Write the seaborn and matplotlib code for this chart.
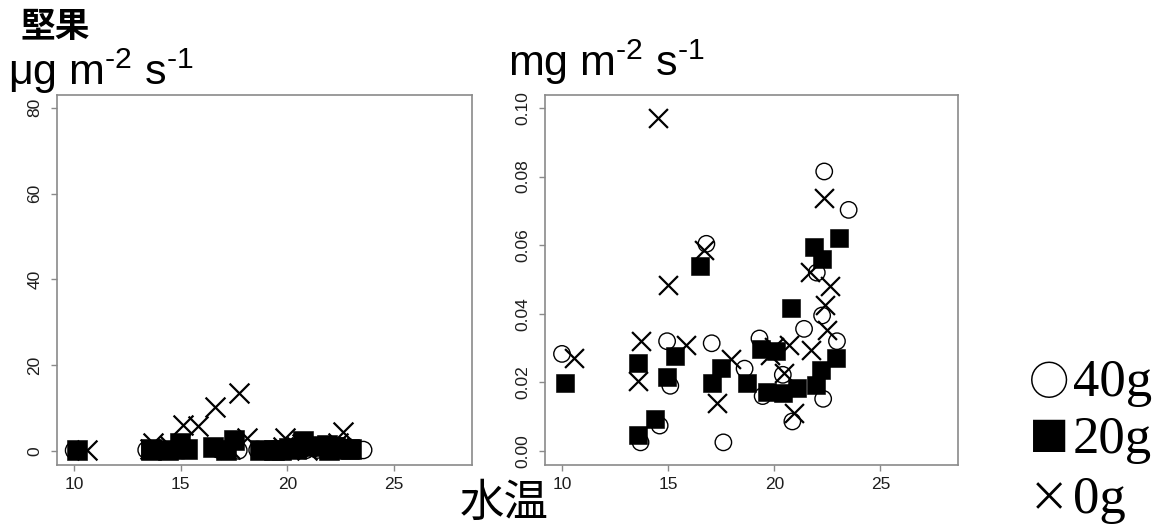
import numpy as np
import pandas as pd
import matplotlib
matplotlib.use("Agg")
import matplotlib.pyplot as plt
import seaborn as sns

# ---------------- data ----------------
groups = ["40g", "20g", "0g"]

# left panel (ug m-2 s-1)
left_40_x = [10.0, 13.4, 13.7, 14.6, 14.95, 15.1, 16.8, 17.1, 17.7, 18.6, 19.3, 19.5, 20.4, 20.85, 21.4, 22.0, 22.3, 22.3, 22.95, 23.55]
left_40_y = [0.1, 0.2, 0.1, 0.2, 0.3, 0.2, 0.3, 0.2, 0.1, 0.2, 0.3, 0.2, 0.3, 0.2, 0.3, 0.4, 0.5, 0.2, 0.3, 0.2]
left_20_x = [10.15, 13.6, 13.6, 14.4, 14.95, 15.3, 16.5, 17.1, 17.5, 18.7, 19.35, 19.7, 20.05, 20.4, 20.75, 21.1, 21.85, 22.25, 21.95, 22.2, 22.9, 23.0]
left_20_y = [0.1, 0.2, 0.4, 0.3, 1.8, 0.5, 1.0, 0.3, 2.6, 0.2, 0.3, 0.2, 0.6, 0.4, 2.2, 1.2, 1.4, 0.8, 0.3, 0.9, 0.5, 0.4]
left_0_x = [10.6, 13.7, 13.55, 14.5, 15.1, 15.8, 16.6, 17.3, 17.75, 18.1, 19.9, 20.7, 20.45, 20.9, 21.7, 22.35, 22.6, 22.4, 22.5, 19.8]
left_0_y = [0.2, 1.8, 0.5, 1.2, 6.1, 5.7, 10.3, 0.5, 13.4, 3.0, 3.0, 1.5, 0.8, 0.3, 1.0, 1.8, 4.5, 0.9, 0.6, 0.8]

# right panel (mg m-2 s-1)
right_40_x = [10.0, 14.95, 15.1, 13.7, 14.6, 16.8, 17.05, 17.6, 18.6, 19.3, 19.45, 20.4, 20.85, 21.4, 22.0, 22.35, 22.25, 22.3, 22.95, 23.5]
right_40_y = [0.0283, 0.0320, 0.0190, 0.0025, 0.0074, 0.0604, 0.0314, 0.0025, 0.0240, 0.0328, 0.0160, 0.0222, 0.0086, 0.0356, 0.0520, 0.0815, 0.0395, 0.0152, 0.0320, 0.0703]
right_20_x = [10.15, 13.6, 13.6, 14.4, 14.95, 15.3, 16.5, 17.08, 17.5, 18.7, 19.35, 19.67, 20.06, 20.4, 20.77, 21.08, 21.87, 22.26, 21.95, 22.22, 22.9, 23.05]
right_20_y = [0.0197, 0.0047, 0.0256, 0.0092, 0.0215, 0.0278, 0.0540, 0.0197, 0.0241, 0.0197, 0.0298, 0.0173, 0.0290, 0.0168, 0.0416, 0.0183, 0.0594, 0.0560, 0.0193, 0.0236, 0.0270, 0.0620]
right_0_x = [10.55, 14.5, 13.7, 13.6, 14.98, 15.85, 16.68, 17.3, 17.94, 19.97, 19.8, 20.7, 20.45, 20.93, 21.7, 21.75, 22.34, 22.6, 22.4, 22.5]
right_0_y = [0.0270, 0.0970, 0.0320, 0.0204, 0.0484, 0.0308, 0.0587, 0.0139, 0.0268, 0.0304, 0.0280, 0.0310, 0.0227, 0.0110, 0.0523, 0.0295, 0.0737, 0.0480, 0.0425, 0.0352]

x_ticks = [10, 15, 20, 25]
left_y_ticks = [0, 20, 40, 60, 80]
right_y_ticks = [0.00, 0.02, 0.04, 0.06, 0.08, 0.10]
right_y_labels = ["0.00", "0.02", "0.04", "0.06", "0.08", "0.10"]

title_main = "堅果"
left_unit = "μg m$^{\u20102}$ s$^{\u20101}$"
right_unit = "mg m$^{\u20102}$ s$^{\u20101}$"
xlabel = "水温"
legend_symbols = ["○", "■", "×"]
legend_labels = ["40g", "20g", "0g"]


def make_df(xs, ys):
    rows = []
    for g, x, y in zip(groups, xs, ys):
        rows.append(pd.DataFrame({"temp": x, "val": y, "group": g}))
    return pd.concat(rows, ignore_index=True)


df_left = make_df([left_40_x, left_20_x, left_0_x], [left_40_y, left_20_y, left_0_y])
df_right = make_df([right_40_x, right_20_x, right_0_x], [right_40_y, right_20_y, right_0_y])

# ---------------- style ----------------
sns.set_theme(style="white")
plt.rcParams["font.family"] = ["Liberation Sans", "Noto Sans CJK JP", "DejaVu Sans"]
plt.rcParams["mathtext.fontset"] = "custom"
plt.rcParams["mathtext.rm"] = "Liberation Sans"
plt.rcParams["mathtext.it"] = "Liberation Sans"
plt.rcParams["mathtext.bf"] = "Liberation Sans"

W, H = 1171, 527
fig = plt.figure(figsize=(W / 100, H / 100), dpi=100)
fig.patch.set_facecolor("white")

ax_l = fig.add_axes([57 / W, 1 - 465 / H, 415 / W, 370 / H])
ax_r = fig.add_axes([545 / W, 1 - 465 / H, 413 / W, 370 / H])

spine_col = "#8a8a8a"
tick_col = "#1e1e1e"


def draw(ax, df, scale=1.0):
    d = df[df.group == "40g"]
    sns.scatterplot(data=d, x="temp", y="val", ax=ax, marker="o", s=140 * scale,
                    facecolor="none", edgecolor="black", color="black", linewidth=1.0, zorder=3)
    d = df[df.group == "20g"]
    sns.scatterplot(data=d, x="temp", y="val", ax=ax, marker="s", s=175 * scale,
                    color="black", edgecolor="black", linewidth=0.4, zorder=4)
    d = df[df.group == "0g"]
    sns.scatterplot(data=d, x="temp", y="val", ax=ax, marker="x", s=185 * scale,
                    color="black", linewidth=1.6, zorder=5)
    ax.set_xlim(9.2, 28.65)
    ax.set_xticks(x_ticks)
    ax.set_xlabel("")
    ax.set_ylabel("")
    for sp in ax.spines.values():
        sp.set_visible(True)
        sp.set_color(spine_col)
        sp.set_linewidth(1.2)
    ax.tick_params(axis="both", which="both", direction="out", length=4.5, width=1.0,
                   color=spine_col, labelcolor=tick_col, labelsize=12.5, bottom=True, left=True)
    ax.tick_params(axis="x", pad=4)
    ax.tick_params(axis="y", pad=6)


draw(ax_l, df_left, scale=1.1)
ax_l.set_ylim(-3.3, 83.0)
ax_l.set_yticks(left_y_ticks)
ax_l.set_yticklabels([str(v) for v in left_y_ticks], rotation=90, va="center")

draw(ax_r, df_right)
ax_r.set_ylim(-0.0041, 0.1038)
ax_r.set_yticks(right_y_ticks)
ax_r.set_yticklabels(right_y_labels, rotation=90, va="center")

# ---------------- texts ----------------
fig.text(21 / W, 1 - 27 / H, title_main, fontsize=25, fontweight="bold",
         family=["Noto Sans CJK JP"], ha="left", va="center", color="black")
fig.text(8 / W, 1 - 85 / H, left_unit, fontsize=31, ha="left", va="baseline", color="black")
fig.text(508 / W, 1 - 76 / H, right_unit, fontsize=31, ha="left", va="baseline", color="black")
fig.text(504 / W, 1 - 503 / H, xlabel, fontsize=32, family=["Noto Sans CJK JP"],
         ha="center", va="center", color="black")

rows_y = [383, 440, 500]
for sym, lab, yy in zip(legend_symbols, legend_labels, rows_y):
    fig.text(1049 / W, 1 - yy / H, sym, fontsize=29, family=["Noto Sans CJK JP"],
             ha="center", va="center", color="black")
    fig.text(1073 / W, 1 - yy / H, lab, fontsize=38, family=["Liberation Serif"],
             ha="left", va="center", color="black")

fig.savefig("out.png", dpi=100, facecolor="white")
